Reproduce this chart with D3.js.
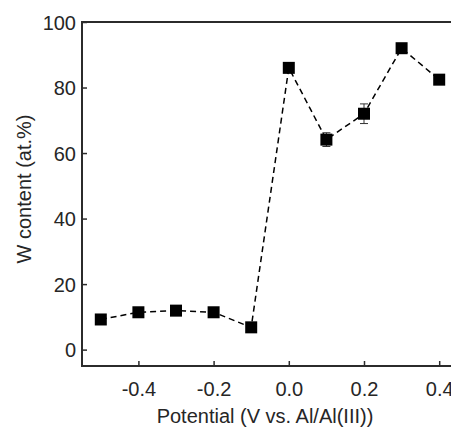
<!DOCTYPE html>
<html>
<head>
<meta charset="utf-8">
<script src="https://cdn.jsdelivr.net/npm/d3@7"></script>
<style>
  html, body { margin: 0; padding: 0; background: #fff; }
  svg { display: block; font-family: 'Liberation Sans', Arial, sans-serif; }
</style>
</head>
<body>
<div id="chart"></div>
<script>
// data
const potentials = [-0.5, -0.4, -0.3, -0.2, -0.1, 0.0, 0.1, 0.2, 0.3, 0.4];
const wContent = [9.2, 11.4, 11.9, 11.4, 6.8, 86.0, 64.1, 72.0, 92.0, 82.4];
const wError = [0.8, 0.8, 0.8, 0.8, 0.8, 1.0, 2.1, 3.0, 1.0, 1.0];
const xTicks = [-0.4, -0.2, 0.0, 0.2, 0.4];
const yTicks = [0, 20, 40, 60, 80, 100];

const width = 451;
const height = 429;

const plotLeft = 82;
const plotTop = 22;
const plotBottom = 366;

const svg = d3
  .select('#chart')
  .append('svg')
  .attr('width', width)
  .attr('height', height);

svg.append('rect').attr('width', width).attr('height', height).attr('fill', '#fff');

// x range runs past the right edge, the original figure is cropped there
const xScale = d3.scaleLinear().domain([-0.55, 0.45]).range([plotLeft, plotLeft + 376]);
const yScale = d3.scaleLinear().domain([-5, 100]).range([plotBottom, plotTop]);

const axisColor = '#2b2b2b';
const textColor = '#262626';

// frame
svg
  .append('rect')
  .attr('x', xScale(-0.55))
  .attr('y', yScale(100))
  .attr('width', xScale(0.45) - xScale(-0.55))
  .attr('height', yScale(-5) - yScale(100))
  .attr('fill', 'none')
  .attr('stroke', axisColor)
  .attr('stroke-width', 2);

// plain hyphen for negatives, like the original
const fmt = (d) => d.toFixed(1);

// x axis, ticks point inward
const xAxis = d3
  .axisBottom(xScale)
  .tickValues(xTicks)
  .tickSizeInner(-5)
  .tickSizeOuter(0)
  .tickPadding(11)
  .tickFormat(fmt);

const gx = svg
  .append('g')
  .attr('transform', `translate(0, ${plotBottom})`)
  .call(xAxis);
gx.select('.domain').remove();
gx.selectAll('.tick line').attr('stroke', axisColor).attr('stroke-width', 1.5);
gx.selectAll('.tick text')
  .attr('fill', textColor)
  .style('font-size', '20px')
  .attr('dy', '0.95em');

// y axis, ticks point inward
const yAxis = d3
  .axisLeft(yScale)
  .tickValues(yTicks)
  .tickSizeInner(-5)
  .tickSizeOuter(0)
  .tickPadding(6);

const gy = svg
  .append('g')
  .attr('transform', `translate(${plotLeft}, 0)`)
  .call(yAxis);
gy.select('.domain').remove();
gy.selectAll('.tick line').attr('stroke', axisColor).attr('stroke-width', 1.5);
gy.selectAll('.tick text')
  .attr('fill', textColor)
  .style('font-size', '20px')
  .attr('dy', '0.36em');

// axis titles
svg
  .append('text')
  .attr('x', 265)
  .attr('y', 423)
  .attr('text-anchor', 'middle')
  .attr('fill', textColor)
  .style('font-size', '20px')
  .text('Potential (V vs. Al/Al(III))');

svg
  .append('text')
  .attr('transform', `translate(31, 189) rotate(-90)`)
  .attr('text-anchor', 'middle')
  .attr('fill', textColor)
  .style('font-size', '20px')
  .text('W content (at.%)');

const points = potentials.map((p, i) => ({ x: p, y: wContent[i], err: wError[i] }));

// dashed connecting line
const line = d3
  .line()
  .x((d) => xScale(d.x))
  .y((d) => yScale(d.y));

svg
  .append('path')
  .datum(points)
  .attr('d', line)
  .attr('fill', 'none')
  .attr('stroke', '#000')
  .attr('stroke-width', 1.5)
  .attr('stroke-dasharray', '6,4');

// error bars
const errs = svg.append('g').attr('class', 'errors');
const capHalf = 4;
points.forEach((d) => {
  const cx = xScale(d.x);
  const y1 = yScale(d.y + d.err);
  const y2 = yScale(d.y - d.err);
  errs.append('line').attr('x1', cx).attr('x2', cx).attr('y1', y1).attr('y2', y2)
    .attr('stroke', '#333').attr('stroke-width', 1);
  [y1, y2].forEach((yy) => {
    errs.append('line').attr('x1', cx - capHalf).attr('x2', cx + capHalf).attr('y1', yy).attr('y2', yy)
      .attr('stroke', '#333').attr('stroke-width', 1);
  });
});

// square markers
const size = 12;
svg
  .append('g')
  .selectAll('rect')
  .data(points)
  .join('rect')
  .attr('x', (d) => xScale(d.x) - size / 2)
  .attr('y', (d) => yScale(d.y) - size / 2)
  .attr('width', size)
  .attr('height', size)
  .attr('fill', '#000');
</script>
</body>
</html>
